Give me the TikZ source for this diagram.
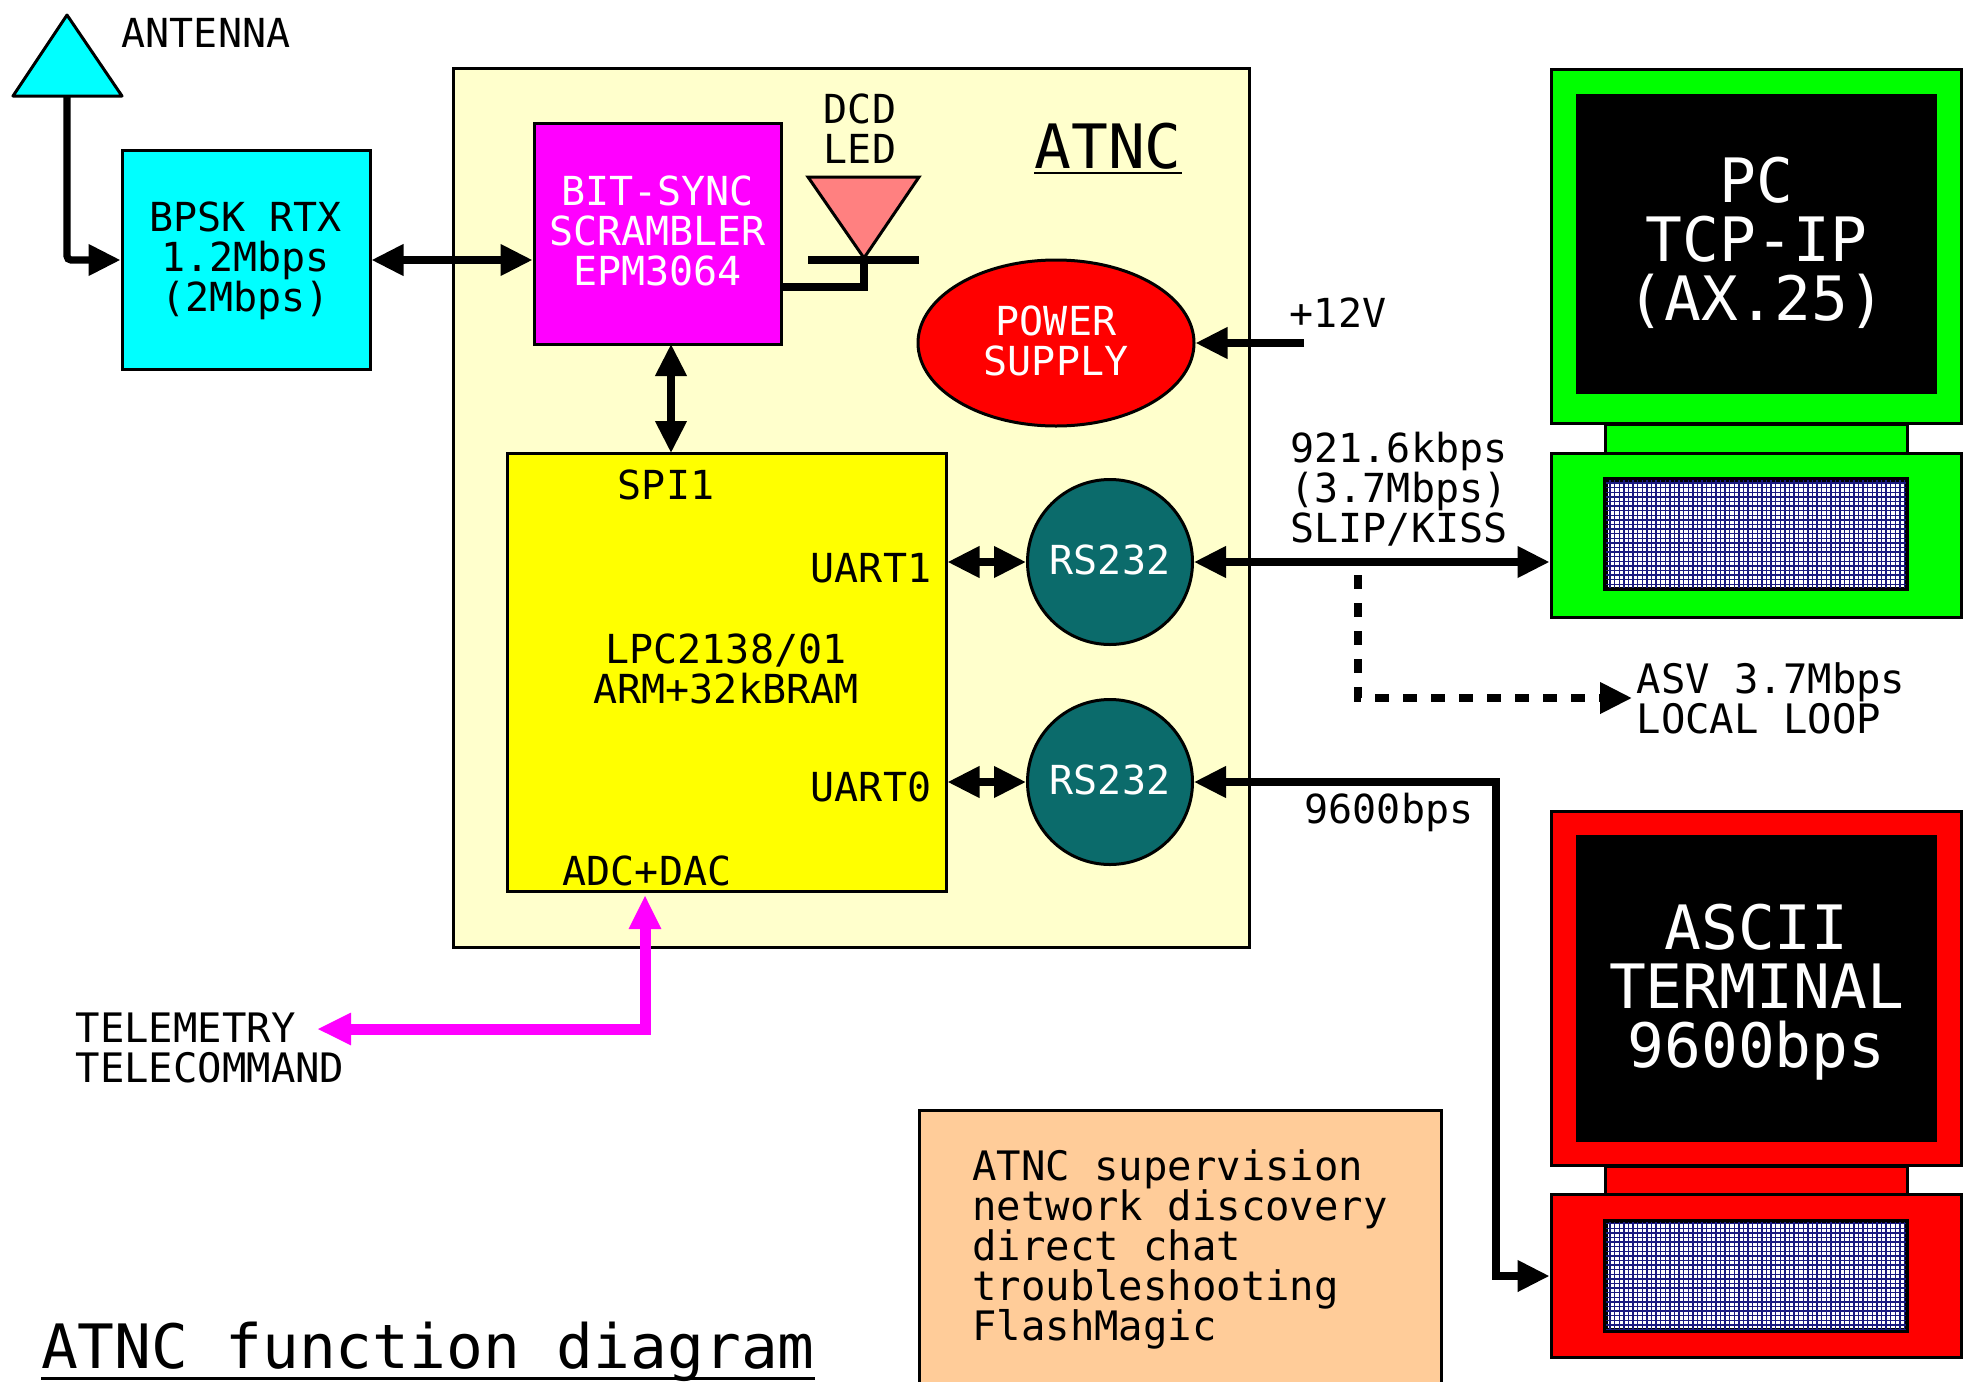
\documentclass[tikz,border=0pt]{standalone}
\usepackage{fontspec}
\setmainfont{DejaVu Sans Mono}
\usetikzlibrary{arrows.meta, shapes.geometric}

\definecolor{cream}{HTML}{FFFFCC}
\definecolor{peach}{HTML}{FFCC99}
\definecolor{rsteal}{HTML}{0B6B6B}
\definecolor{gridnavy}{HTML}{1A1A80}
\definecolor{radiocyan}{HTML}{00FFFF}
\definecolor{syncpink}{HTML}{FF00FF}
\definecolor{cpuyellow}{HTML}{FFFF00}
\definecolor{ledpink}{HTML}{FF8080}
\definecolor{pcgreen}{HTML}{00FF00}
\definecolor{termred}{HTML}{FF0000}

\tikzstyle{block} = [rectangle, draw = black, line width = 1.5pt, inner sep = 0pt,
	align = center, font = \fontsize{20}{20}\selectfont]
\tikzstyle{caption} = [inner sep = 0pt, align = center, font = \fontsize{20}{20}\selectfont]
\tikzstyle{widecaption} = [inner sep = 0pt, align = left, font = \fontsize{20.3}{20}\selectfont]
\tikzstyle{bigtext} = [inner sep = 0pt, align = center, font = \fontsize{30.6}{29.5}\selectfont]
\tikzstyle{link} = [line width = 3.6pt, {Triangle[length = 16pt, width = 15pt]}-{Triangle[length = 16pt, width = 15pt]}]
\tikzstyle{feed} = [line width = 3.6pt, -{Triangle[length = 16pt, width = 15pt]}]
\tikzstyle{holes} = [line width = 0.7pt, draw = gridnavy]

\newcommand{\ulined}[2]{\setbox0\hbox{#2}\copy0\llap{\rule[#1]{\wd0}{1.2pt}}}

\begin{document}
\begin{tikzpicture}[x = 0.5pt, y = -0.5pt]

\useasboundingbox (0,0) rectangle (1974,1381);

% outer board
\node (atnc) [block, fill = cream, minimum width = 398pt, minimum height = 439.5pt] at (851,507.5) {};
\node (atnctitle) [bigtext] at (1108,148.5) {\ulined{-2.75pt}{ATNC}};

% antenna and radio
\coordinate (antennatop) at (67,15);
\coordinate (antennaleft) at (13,96);
\coordinate (antennaright) at (122,96);
\coordinate (antennafoot) at (67,96);
\draw [fill = radiocyan, line width = 1.5pt, line join = round] (antennatop) -- (antennaright) -- (antennaleft) -- cycle;
\node (antennatext) [caption] at (206,33) {ANTENNA};
\node (bpsk) [block, fill = radiocyan, minimum width = 124pt, minimum height = 109.5pt] at (246,260) {};
\node (bpsktext) [caption] at (245.5,261) {BPSK RTX\\1.2Mbps\\(2Mbps)};

% bit sync and led
\node (sync) [block, fill = syncpink, minimum width = 123.5pt, minimum height = 110.5pt] at (657.5,233.5) {};
\node (synctext) [caption, text = white] at (657.5,231) {BIT-SYNC\\SCRAMBLER\\EPM3064};
\node (dcdtext) [caption] at (860,129) {DCD\\LED};
\coordinate (ledleft) at (808,177);
\coordinate (ledright) at (919,177);
\coordinate (ledtip) at (864,258);
\coordinate (barleft) at (808,260);
\coordinate (barright) at (919,260);
\coordinate (ledwire) at (864,287);
\draw [fill = ledpink, line width = 1.5pt] (ledleft) -- (ledright) -- (ledtip) -- cycle;

% power
\node (power) [block, ellipse, fill = termred, minimum width = 138pt, minimum height = 83pt] at (1056,343) {};
\node (powertext) [caption, text = white] at (1056,341) {POWER\\SUPPLY};
\coordinate (supply) at (1304,343);
\node (supplytext) [caption] at (1338,313) {+12V};

% processor
\node (lpc) [block, fill = cpuyellow, minimum width = 219.5pt, minimum height = 219pt] at (726.5,672) {};
\node (spitext) [caption] at (666,485) {SPI1};
\node (uarttexta) [caption] at (871,568) {UART1};
\node (uarttextb) [caption] at (871,787) {UART0};
\node (lpctext) [caption] at (726,669) {LPC2138/01\\ARM+32kBRAM};
\node (adctext) [caption] at (647,871) {ADC+DAC};
\coordinate (syncbus) at (671,344);
\coordinate (spibus) at (671,453);
\node (rsa) [block, circle, fill = rsteal, minimum size = 82.5pt] at (1110,562) {};
\node (rsatext) [caption, text = white] at (1110,559.5) {RS232};
\node (rsb) [block, circle, fill = rsteal, minimum size = 82.5pt] at (1110,782) {};
\node (rsbtext) [caption, text = white] at (1110,779.5) {RS232};

% pc
\node (pcbox) [block, fill = pcgreen, minimum width = 205pt, minimum height = 177pt] at (1756,246) {};
\node (pcscreen) [block, fill = black, minimum width = 179pt, minimum height = 148.5pt] at (1756.5,243.5) {};
\node (pctext) [bigtext, text = white] at (1756.5,242.5) {PC\\TCP-IP\\(AX.25)};
\node (pcneck) [block, fill = pcgreen, minimum width = 151pt, minimum height = 14.5pt] at (1756,438.5) {};
\node (pcbase) [block, fill = pcgreen, minimum width = 205pt, minimum height = 82pt] at (1756,535) {};
\node (pcgrid) [block, fill = white, minimum width = 150pt, minimum height = 54pt] at (1756,534) {};
\draw [holes] (pcgrid.south west) grid [step = 2.3pt] (pcgrid.north east);
\draw [line width = 1.5pt, draw = black] (pcgrid.south west) rectangle (pcgrid.north east);

% terminal
\node (termbox) [block, fill = termred, minimum width = 205pt, minimum height = 177pt] at (1756,988) {};
\node (termscreen) [block, fill = black, minimum width = 179pt, minimum height = 152pt] at (1756.5,988.5) {};
\node (termtext) [bigtext, text = white] at (1756.5,992) {ASCII\\TERMINAL\\9600bps};
\node (termneck) [block, fill = termred, minimum width = 151pt, minimum height = 14pt] at (1756,1180) {};
\node (termbase) [block, fill = termred, minimum width = 205pt, minimum height = 81.5pt] at (1756,1275.5) {};
\node (termgrid) [block, fill = white, minimum width = 150pt, minimum height = 54pt] at (1756,1275.5) {};
\draw [holes] (termgrid.south west) grid [step = 2.3pt] (termgrid.north east);
\draw [line width = 1.5pt, draw = black] (termgrid.south west) rectangle (termgrid.north east);

% data rates
\node (ratetext) [caption] at (1399,489) {921.6kbps\\(3.7Mbps)\\SLIP/KISS};
\node (looptext) [widecaption] at (1771,698) {ASV 3.7Mbps\\LOCAL LOOP};
\node (slowtext) [caption] at (1389,812) {9600bps};
\coordinate (looptap) at (1358,575);
\coordinate (loopend) at (1632,698);
\coordinate (slowcorner) at (1496,782);
\coordinate (slowend) at (1496,1276);

% telemetry
\node (teletext) [widecaption] at (210,1048) {TELEMETRY\\TELECOMMAND};
\coordinate (teleend) at (317,1029);
\coordinate (telecorner) at (645,1029);
\coordinate (teletop) at (645,895);

% notes
\node (notes) [block, fill = peach, minimum width = 261pt, minimum height = 150pt] at (1180,1260) {};
\node (notestext) [widecaption] at (1180,1249) {ATNC supervision\\network discovery\\direct chat\\troubleshooting\\FlashMagic};

\node (title) [bigtext] at (428,1352) {\ulined{-5.6pt}{ATNC function diagram}};

% connections
\draw [feed, rounded corners = 2pt] (antennafoot) |- (bpsk.west);
\draw [link] (bpsk.east) -- (bpsk.east -| sync.west);
\draw [link] (syncbus) -- (spibus);
\draw [link] (lpc.east |- rsa.west) -- (rsa.west);
\draw [link] (lpc.east |- rsb.west) -- (rsb.west);
\draw [link] (rsa.east) -- (rsa.east -| pcbase.west);
\draw [feed] (supply) -- (power.east);
\draw [link] (rsb.east) -- (slowcorner) -- (slowend) -- (slowend -| termbase.west);
\draw [feed, dash pattern = on 7pt off 7pt] (looptap) |- (loopend);
\draw [syncpink, line width = 5.5pt, {Triangle[length = 17pt, width = 15pt]}-{Triangle[length = 17pt, width = 15pt]}] (teletop) -- (telecorner) -- (teleend);
\draw [line width = 3.6pt] (barleft) -- (barright);
\draw [line width = 3.6pt] (sync.east |- ledwire) -- (ledwire) -- (ledtip);

\end{tikzpicture}
\end{document}
